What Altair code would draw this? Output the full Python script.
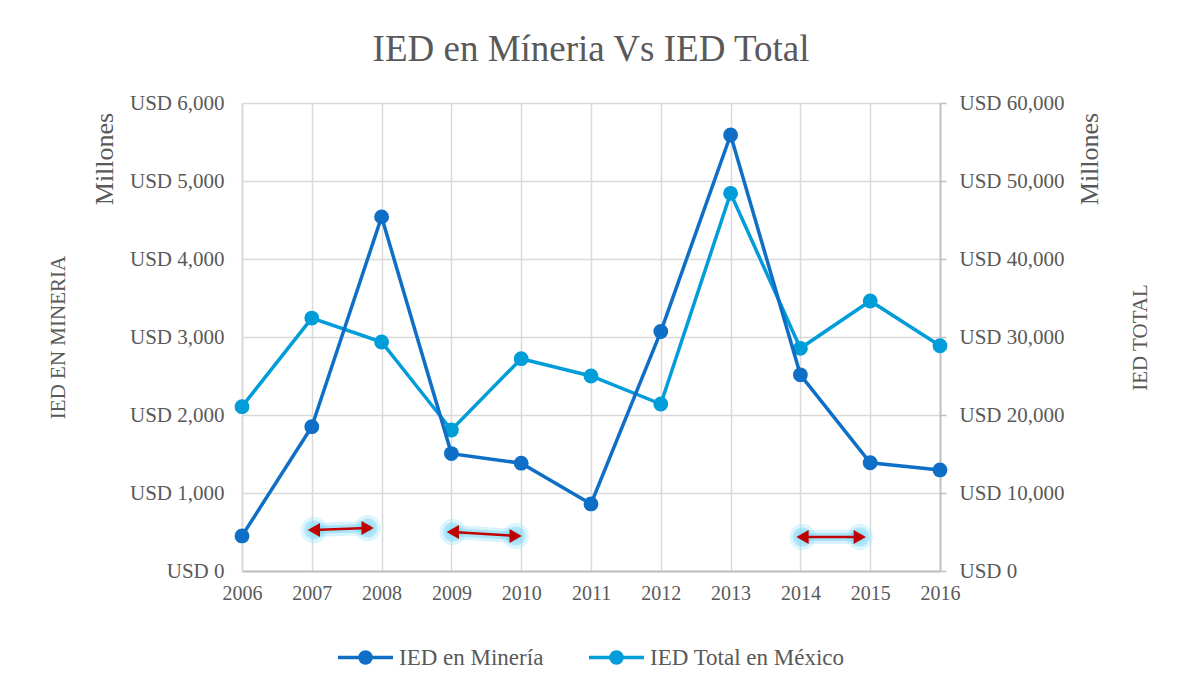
import altair as alt
import pandas as pd

years = [2006, 2007, 2008, 2009, 2010, 2011, 2012, 2013, 2014, 2015, 2016]
mineria = [450, 1850, 4540, 1505, 1382, 860, 3070, 5590, 2515, 1388, 1296]
total = [21070, 32430, 29360, 18080, 27220, 25000, 21410, 48420, 28550, 34620, 28880]
series_names = ["IED en Minería", "IED Total en México"]
series_colors = ["#0F6FC6", "#009DD9"]
left_ticks = [0, 1000, 2000, 3000, 4000, 5000, 6000]
right_ticks = [0, 10000, 20000, 30000, 40000, 50000, 60000]

# annotation arrows (year position, left-axis value)
arrow_x1 = [2007.03, 2009.02, 2014.03]
arrow_x2 = [2007.80, 2009.92, 2014.85]
arrow_y1 = [526, 500, 436]
arrow_y2 = [551, 449, 436]

FONT = "Liberation Serif"
TXT = "#595959"
GRID = "#D9D9D9"
AXL = "#BFBFBF"

df = pd.DataFrame({"year": years, "mineria": mineria, "total": total})
arrows = pd.DataFrame({"x1": arrow_x1, "x2": arrow_x2, "y1": arrow_y1, "y2": arrow_y2})
heads = pd.DataFrame({
    "x": arrow_x1 + arrow_x2,
    "y": arrow_y1 + arrow_y2,
    "shape": ["triangle-left"] * 3 + ["triangle-right"] * 3,
})

x_scale = alt.Scale(domain=[2006, 2016], nice=False, zero=False)
x_axis = alt.Axis(values=years, format="d", title=None, grid=True, ticks=False,
                  labelFlush=False, labelOverlap=False,
                  labelPadding=12, labelFontSize=20, labelFont=FONT, labelColor=TXT,
                  gridColor=GRID, gridWidth=1.5, domainColor=AXL, domainWidth=1.8)

yl_scale = alt.Scale(domain=[0, 6000], nice=False)
yl_axis = alt.Axis(values=left_ticks, labelExpr="'USD ' + format(datum.value, ',')",
                   orient="left", title="IED EN MINERIA", grid=True, ticks=False,
                   labelPadding=18, labelFontSize=21, labelFont=FONT, labelColor=TXT,
                   gridColor=GRID, gridWidth=1.5, domainColor=GRID, domainWidth=1.8,
                   titleFont=FONT, titleFontSize=21, titleFontWeight="normal", titleColor=TXT,
                   titleAngle=270, titleX=-184, titleY=234, titleAlign="center",
                   titleBaseline="middle")

yr_scale = alt.Scale(domain=[0, 60000], nice=False)
yr_axis = alt.Axis(values=right_ticks, labelExpr="'USD ' + format(datum.value, ',')",
                   orient="right", title="IED TOTAL", grid=False, ticks=True, tickSize=6,
                   tickColor=AXL, tickWidth=1.5,
                   labelPadding=13, labelFontSize=21, labelFont=FONT, labelColor=TXT,
                   domainColor=AXL, domainWidth=1.8,
                   titleFont=FONT, titleFontSize=21, titleFontWeight="normal", titleColor=TXT,
                   titleAngle=270, titleX=200, titleY=234, titleAlign="center",
                   titleBaseline="middle")

legend_symbol = "M-1,0L1,0M0.2,0A0.2,0.2,0,1,1,-0.2,0A0.2,0.2,0,1,1,0.2,0Z"
color_enc = alt.Color(
    "series:N",
    scale=alt.Scale(domain=series_names, range=series_colors),
    legend=alt.Legend(title=None, orient="none", legendX=94, legendY=525,
                      direction="horizontal", symbolType=legend_symbol, symbolSize=3025,
                      symbolStrokeWidth=3.5, labelFont=FONT, labelFontSize=23,
                      labelColor=TXT, labelOffset=4, columnPadding=38, labelLimit=400),
)

X = alt.X("year:Q", scale=x_scale, axis=x_axis)

# right-axis series (total)
tot_base = alt.Chart(df).transform_calculate(series="'IED Total en México'").encode(
    x=X, y=alt.Y("total:Q", scale=yr_scale, axis=yr_axis), color=color_enc)
tot_group = alt.layer(
    tot_base.mark_line(strokeWidth=3.5),
    tot_base.mark_circle(size=220, opacity=1),
)

# left-axis series (mineria) + annotations
min_base = alt.Chart(df).transform_calculate(series="'IED en Minería'").encode(
    x=X, y=alt.Y("mineria:Q", scale=yl_scale, axis=yl_axis), color=color_enc)

ax = alt.X("x1:Q", scale=x_scale, axis=x_axis)
glow1 = alt.Chart(arrows).mark_rule(color="#8FDDF7", strokeWidth=14, opacity=0.35,
                                    strokeCap="round").encode(
    x=ax, x2="x2:Q", y=alt.Y("y1:Q", scale=yl_scale, axis=yl_axis), y2="y2:Q")
glow2 = alt.Chart(arrows).mark_rule(color="#7AD6F5", strokeWidth=8, opacity=0.5,
                                    strokeCap="round").encode(
    x=ax, x2="x2:Q", y=alt.Y("y1:Q", scale=yl_scale, axis=yl_axis), y2="y2:Q")
hx = alt.X("x:Q", scale=x_scale, axis=x_axis)
hy = alt.Y("y:Q", scale=yl_scale, axis=yl_axis)
head_glow1 = alt.Chart(heads).mark_circle(color="#9FE3F9", size=700, opacity=0.35).encode(
    x=hx, y=hy)
head_glow2 = alt.Chart(heads).mark_circle(color="#7AD6F5", size=380, opacity=0.45).encode(
    x=hx, y=hy)
shaft = alt.Chart(arrows).mark_rule(color="#C00000", strokeWidth=2.5).encode(
    x=ax, x2="x2:Q", y=alt.Y("y1:Q", scale=yl_scale, axis=yl_axis), y2="y2:Q")
head = alt.Chart(heads).mark_point(filled=True, color="#C00000", size=200, opacity=1).encode(
    x=hx, y=hy, shape=alt.Shape("shape:N", scale=None, legend=None))

lab = pd.DataFrame({"t": ["Millones"]})
mill_left = alt.Chart(lab).mark_text(angle=270, font=FONT, fontSize=26, color=TXT,
                                     align="center", baseline="middle").encode(
    text="t:N", x=alt.value(-137), y=alt.value(56))
mill_right = alt.Chart(lab).mark_text(angle=270, font=FONT, fontSize=26, color=TXT,
                                      align="center", baseline="middle").encode(
    text="t:N", x=alt.value(848), y=alt.value(56))

min_group = alt.layer(
    head_glow1, glow1, head_glow2, glow2, shaft, head,
    min_base.mark_line(strokeWidth=3.5),
    min_base.mark_circle(size=220, opacity=1),
    mill_left, mill_right,
)

chart = alt.layer(tot_group, min_group).resolve_scale(y="independent").properties(
    width=698, height=468,
    autosize=alt.AutoSizeParams(type="none"),
    padding={"left": 234, "top": 95, "right": 220, "bottom": 101},
    title=alt.TitleParams("IED en Míneria Vs IED Total", font=FONT, fontSize=37,
                          fontWeight="normal", color=TXT, anchor="middle",
                          frame="group", baseline="alphabetic", offset=41, dy=47),
).configure_view(stroke=None).configure(background="white")

chart.save("out.html", embed_options={"renderer": "svg", "actions": False})
